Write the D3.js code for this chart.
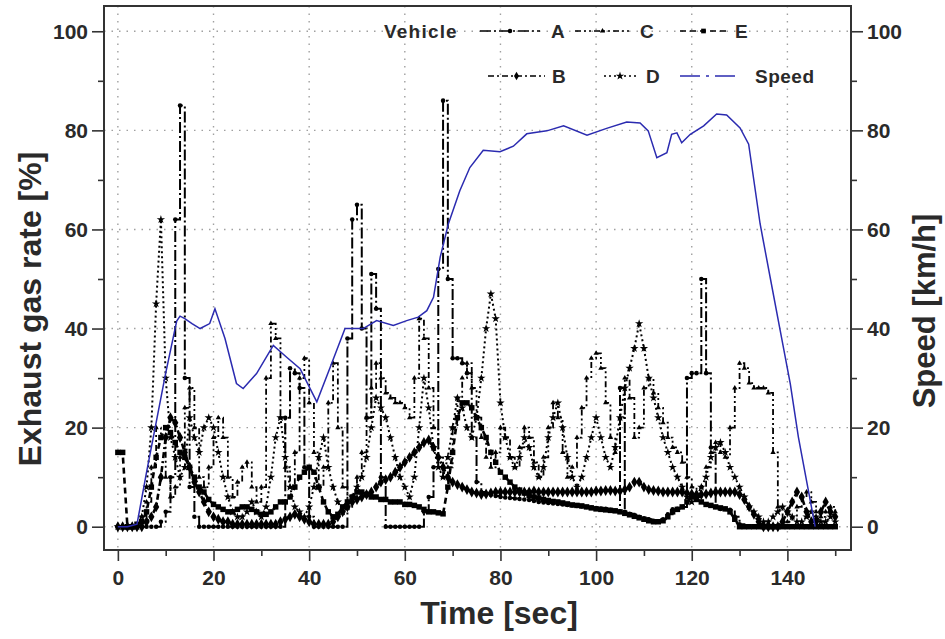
<!DOCTYPE html>
<html>
<head>
<meta charset="utf-8">
<script src="https://cdn.jsdelivr.net/npm/d3@7"></script>
<style>
  body { margin: 0; background: #fff; }
  text { font-family: "Liberation Sans", Arial, sans-serif; font-weight: bold; fill: #2a2a2a; }
</style>
</head>
<body>
<svg id="chart" width="945" height="639"></svg>
<script>
// sample times (1 Hz) for the exhaust gas series
const time = d3.range(0, 151);

// exhaust gas rate [%] per vehicle, one value per second
const vehA = [
  0,0,0,0,0,0,0,0,0,1,3,
  10,62,85,30,8,2,0,0,0,0,
  0,0,0,0,0,0,0,0,0,0,
  0,0,0,0,22,32,31,28,12,2,
  0,0,0,0,0,0,0,38,62,65,
  40,22,51,44,10,0,0,0,0,0,
  0,0,0,3,6,12,52,86,50,34,
  34,33,31,18,9,7,6.5,6.4,6.2,6,
  5.9,5.8,5.7,5.6,5.5,5.4,5.2,5,4.9,4.8,
  4.7,4.6,4.5,4.4,4.3,4.2,4.1,4,3.9,3.8,
  3.7,3.6,3.4,3.2,28,3,2.6,2.3,2,1.7,
  1.5,1.2,1,1.5,2.5,3.5,3.6,4,30,31,
  31,50,31,16,4,3.6,3.6,3.4,2,0.5,
  0,0,0,0,0,0,0,0,0,0,
  0,0,0,0,0,0,0,0,0,0
];
const vehB = [
  0,0,0,0,0,0,1,2,4,10,18,
  22,21,18,15,12,9,7,5,3,2,
  1.5,1,1,0.5,0.5,0.5,0.5,0.5,0.5,0.5,
  0.5,0.5,0.5,1,1.5,2,2.5,2,1.5,1,
  0.5,0.5,0.5,0.5,1,2,3,4,5,5.5,
  6,6.5,7,8,9,9.5,10,11,12,13,
  14,15,16,17,17.5,16,14,12,10,9,
  8.5,8,7.5,7,6.8,6.5,6.6,6.8,7,7,
  7,7,7,7,7,7,7.2,7,7,7,
  7,7,7,7,7,7,7,7,7,7.2,
  7.2,7.3,7.3,7.2,7.2,7.5,8,9,9,8,
  7.5,7.3,7.2,7,7,7,7,7,6.8,6.6,
  6.5,6.5,6.6,6.8,7,7,7,7,7,6.5,
  5.5,4,2.5,1,0,0,0,0,1,3,
  5,7,6,3,1,1,3,5,3,2
];
const vehC = [
  0,0,0,0,0,2,5,12,20,18,10,
  6,8,14,24,28,20,10,8,12,18,
  22,18,10,6,9,12,13,8,5,8,
  30,41,38,22,12,8,15,30,34,25,
  15,8,12,25,33,20,8,4,6,10,
  15,22,28,33,30,27,26,25,25,24,
  22,30,42,38,28,20,14,10,12,20,
  26,30,33,28,22,18,14,12,15,20,
  18,14,12,16,20,18,13,10,14,20,
  25,22,15,10,12,18,24,30,34,35,
  32,25,18,15,22,30,26,18,20,28,
  30,27,24,21,18,16,15,13,10,8,
  6,8,12,15,17,15,14,20,28,33,
  32,29,28,28,28,27,15,4,1,1,
  2,4,6,7,5,3,2,3,4,3
];
const vehD = [
  0,0,0,0,0,2,8,20,45,62,30,
  18,14,10,12,22,18,15,20,22,20,
  15,10,6,3,2,2,3,5,3,2,
  4,10,18,22,14,8,4,3,2,4,
  8,14,18,12,8,5,3,4,6,8,
  10,14,20,26,24,22,18,14,10,8,
  6,10,20,30,24,16,12,10,14,20,
  26,24,20,18,22,30,40,47,42,25,
  18,14,12,14,18,16,12,10,12,18,
  22,25,20,14,10,8,10,14,18,22,
  18,14,12,16,22,28,32,36,41,36,
  30,26,22,18,15,12,10,8,6,5,
  6,8,10,14,16,17,15,12,10,8,
  6,4,3,2,1,1,2,3,4,3,
  2,1,1,2,3,2,1,1,2,1
];
const vehE = [
  15,15,0,0,0.5,1,3,8,14,18,20,
  19,17,15,14,12,10,8,7,5.5,4.5,
  4,3.5,3,3,3.5,4,4,3.5,3,2.5,
  2.5,3,4,5,5,6,8,10,11,12,
  11,8,5,3,2,2.5,4,5,6,7,
  7,6.5,6,6,5.5,5.5,5,5,5,4.5,
  4.5,4.3,4,3.5,3,3,2.8,2.6,8,15,
  22,25,25,24,22,20,18,15,13,11,
  10,9,8,7.4,6.8,6.3,6,5.8,5.5,5.3,
  5.1,5,4.8,4.6,4.4,4.3,4.2,4,3.8,3.6,
  3.5,3.4,3.3,3.2,3,2.7,2.4,2.1,1.8,1.5,
  1.2,1,1,1.2,2,3,3.5,4,5,6,
  5.5,5,4.5,4.3,4,3.8,3.6,3,1.5,0,
  0,0,0,0,0,0,0,0,0,0,
  0,0,0,0,0,0,0,0,0,0
];

// vehicle speed [km/h]
const speedT = [0,2,4,6,8,10,12.3,13,14,15.5,17.2,19.2,20.3,22.4,24.8,26.2,29,32.5,35.3,38.1,41.6,44.4,47.5,51.3,54.1,57.6,60.4,62.8,64.6,66,67.4,69.1,71.5,73.6,76.4,79.9,82.7,85.5,89.7,93.2,98.1,102.2,106.4,109.2,110.9,112.7,114.8,115.8,116.9,117.9,119.7,122.5,125.2,127.3,130.1,131.9,134.3,136.4,138.5,140.6,142.3,145.8];
const speedV = [0,0,0.5,11,21,31,41.5,42.5,42,41,40,41,44,38,28.9,27.9,30.9,36.6,34.2,31.9,25.2,32.2,40,40,41.6,40.6,41.6,42.3,43.6,46.3,54.4,61.1,67.8,72.5,76,75.7,76.8,79.3,79.9,80.9,79,80.4,81.7,81.5,79.9,74.5,75.5,79.2,79.5,77.5,79.2,80.9,83.3,83.1,80.5,77.2,61.1,50.3,39.6,28.9,18.1,0];

const xMajor = [0, 20, 40, 60, 80, 100, 120, 140];
const xMinor = [10, 30, 50, 70, 90, 110, 130, 150];
const yMajor = [0, 20, 40, 60, 80, 100];
const yMinor = [10, 30, 50, 70, 90];

const series = [
  { name: "A", values: vehA, dash: "11,3,2,3", curve: d3.curveStepAfter, width: 2, symbol: d3.symbolCircle, size: 16 },
  { name: "B", values: vehB, dash: "6,3,2,3", curve: d3.curveLinear, width: 2.6, symbol: d3.symbolDiamond, size: 34 },
  { name: "C", values: vehC, dash: "6,3,2,3,2,3", curve: d3.curveStepAfter, width: 1.8, symbol: d3.symbolTriangle, size: 12 },
  { name: "D", values: vehD, dash: "2,3", curve: d3.curveLinear, width: 2, symbol: d3.symbolStar, size: 22 },
  { name: "E", values: vehE, dash: "6,4", curve: d3.curveLinear, width: 2.6, symbol: d3.symbolSquare, size: 30 }
];

const svg = d3.select("#chart");
const plot = { left: 104, right: 851, top: 6, bottom: 550 };

const x = d3.scaleLinear().domain([-2.9, 153.3]).range([plot.left, plot.right]);
const y = d3.scaleLinear().domain([-4.7, 105.1]).range([plot.bottom, plot.top]);
const ySpeed = d3.scaleLinear().domain([-4.7, 105.1]).range([plot.bottom, plot.top]);

svg.append("defs").append("clipPath").attr("id", "clip")
  .append("rect")
  .attr("x", plot.left).attr("y", plot.top)
  .attr("width", plot.right - plot.left).attr("height", plot.bottom - plot.top);

// dotted grid
const grid = svg.append("g").attr("stroke", "#a0a0a0").attr("stroke-width", 1.4).attr("stroke-dasharray", "1.5,6");
grid.selectAll(".gx").data(xMajor).enter().append("line")
  .attr("x1", d => x(d)).attr("x2", d => x(d))
  .attr("y1", plot.top).attr("y2", plot.bottom);
grid.selectAll(".gy").data(yMajor).enter().append("line")
  .attr("x1", plot.left).attr("x2", plot.right)
  .attr("y1", d => y(d)).attr("y2", d => y(d));

// exhaust series
const body = svg.append("g").attr("clip-path", "url(#clip)");

series.forEach(s => {
  const line = d3.line().curve(s.curve).x((d, i) => x(time[i])).y(d => y(d));
  body.append("path")
    .datum(s.values)
    .attr("fill", "none")
    .attr("stroke", "#000")
    .attr("stroke-width", s.width)
    .attr("stroke-dasharray", s.dash)
    .attr("d", line);
  body.append("g").selectAll("path")
    .data(s.values)
    .enter().append("path")
    .attr("transform", (d, i) => `translate(${x(time[i])},${y(d)})`)
    .attr("d", d3.symbol().type(s.symbol).size(s.size))
    .attr("fill", "#000");
});

// speed
const speedLine = d3.line().x((d, i) => x(speedT[i])).y(d => ySpeed(d));
body.append("path")
  .datum(speedV)
  .attr("fill", "none")
  .attr("stroke", "#2b2bb0")
  .attr("stroke-width", 1.5)
  .attr("d", speedLine);

// axes
function styleAxis(g) {
  g.select(".domain").remove();
  g.selectAll("line").attr("stroke", "#333").attr("stroke-width", 1.6);
  g.selectAll("text").attr("font-size", 21).attr("fill", "#2a2a2a")
    .style("font-weight", "bold");
}

svg.append("g").attr("transform", `translate(${plot.left},0)`)
  .call(d3.axisLeft(y).tickValues(yMinor).tickSize(6).tickFormat(""))
  .call(styleAxis);
svg.append("g").attr("transform", `translate(${plot.left},0)`)
  .call(d3.axisLeft(y).tickValues(yMajor).tickSize(12).tickPadding(4))
  .call(styleAxis);

svg.append("g").attr("transform", `translate(${plot.right},0)`)
  .call(d3.axisRight(ySpeed).tickValues(yMinor).tickSize(6).tickFormat(""))
  .call(styleAxis);
svg.append("g").attr("transform", `translate(${plot.right},0)`)
  .call(d3.axisRight(ySpeed).tickValues(yMajor).tickSize(12).tickPadding(4))
  .call(styleAxis);

svg.append("g").attr("transform", `translate(0,${plot.bottom})`)
  .call(d3.axisBottom(x).tickValues(xMinor).tickSize(6).tickFormat(""))
  .call(styleAxis);
svg.append("g").attr("transform", `translate(0,${plot.bottom})`)
  .call(d3.axisBottom(x).tickValues(xMajor).tickSize(11).tickPadding(9))
  .call(styleAxis);

// frame
svg.append("rect")
  .attr("x", plot.left).attr("y", plot.top)
  .attr("width", plot.right - plot.left).attr("height", plot.bottom - plot.top)
  .attr("fill", "none").attr("stroke", "#333").attr("stroke-width", 2);

// axis titles
svg.append("text")
  .attr("x", 499).attr("y", 624)
  .attr("text-anchor", "middle").attr("font-size", 32)
  .text("Time [sec]");
svg.append("text")
  .attr("transform", `translate(41,309) rotate(-90)`)
  .attr("text-anchor", "middle").attr("font-size", 32)
  .text("Exhaust gas rate [%]");
svg.append("text")
  .attr("transform", `translate(935,311) rotate(-90)`)
  .attr("text-anchor", "middle").attr("font-size", 31)
  .text("Speed [km/h]");

// legend
const legend = svg.append("g");
legend.append("text").attr("x", 384).attr("y", 38).attr("font-size", 19)
  .attr("letter-spacing", 1.2).text("Vehicle");

const legendItems = [
  { s: series[0], x1: 480, x2: 540, tx: 551, ty: 31 },
  { s: series[2], x1: 575, x2: 630, tx: 640, ty: 31 },
  { s: series[4], x1: 680, x2: 727, tx: 735, ty: 31 },
  { s: series[1], x1: 488, x2: 545, tx: 552, ty: 76 },
  { s: series[3], x1: 604, x2: 636, tx: 646, ty: 76 }
];
legendItems.forEach(it => {
  legend.append("line")
    .attr("x1", it.x1).attr("x2", it.x2).attr("y1", it.ty).attr("y2", it.ty)
    .attr("stroke", "#000").attr("stroke-width", 1.6).attr("stroke-dasharray", it.s.dash);
  legend.append("path")
    .attr("transform", `translate(${(it.x1 + it.x2) / 2},${it.ty})`)
    .attr("d", d3.symbol().type(it.s.symbol).size(Math.min(it.s.size, 22)))
    .attr("fill", "#000");
  legend.append("text").attr("x", it.tx).attr("y", it.ty + 7).attr("font-size", 19).text(it.s.name);
});
legend.append("line")
  .attr("x1", 680).attr("x2", 737).attr("y1", 76).attr("y2", 76)
  .attr("stroke", "#2b2bb0").attr("stroke-width", 1.6).attr("stroke-dasharray", "20,6,3,6");
legend.append("text").attr("x", 755).attr("y", 83).attr("font-size", 19)
  .attr("letter-spacing", 0.5).text("Speed");
</script>
</body>
</html>
